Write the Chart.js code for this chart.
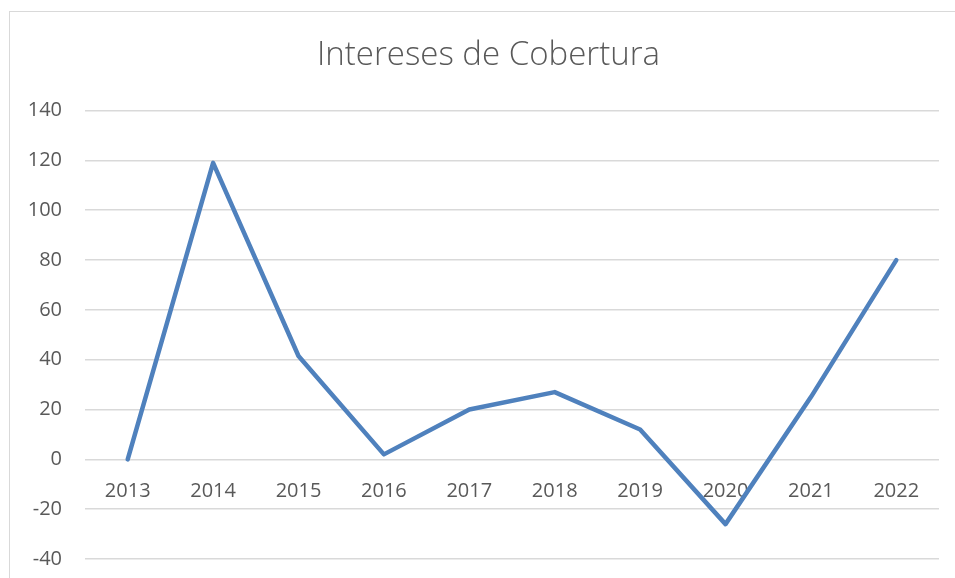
<!DOCTYPE html>
<html>
<head>
<meta charset="utf-8">
<script src="https://cdn.jsdelivr.net/npm/chart.js@4"></script>
<style>
  html, body { margin: 0; padding: 0; background: #fff; }
  #wrap { position: relative; width: 955px; height: 578px; overflow: hidden; }
  #frame { position: absolute; left: 9px; top: 11px; width: 960px; height: 600px; border: 1px solid #d9d9d9; box-sizing: border-box; }
  canvas { position: absolute; left: 0; top: 0; }
</style>
</head>
<body>
<div id="wrap">
  <div id="frame"></div>
  <!-- el lienzo es algo más alto que la ventana: el borde inferior queda recortado como en el original -->
  <canvas id="chart" width="955" height="594"></canvas>
</div>
<script>
// datos del gráfico
const years = ["2013", "2014", "2015", "2016", "2017", "2018", "2019", "2020", "2021", "2022"];
const cobertura = [0, 119, 41.5, 2, 20, 27, 12, -26, 25, 80];
const yMin = -40;
const yMax = 140;
const yStep = 20;

const textColor = "#595959";
const gridColor = "#d9d9d9";

// el título del original está centrado un poco más a la derecha
const shiftTitle = {
  id: "shiftTitle",
  afterLayout(chart) {
    if (chart.titleBlock) chart.titleBlock.left += 38;
  },
};

const ctx = document.getElementById("chart").getContext("2d");

new Chart(ctx, {
  type: "line",
  data: {
    labels: years,
    datasets: [
      {
        label: "Intereses de Cobertura",
        data: cobertura,
        borderColor: "#4f81bd",
        backgroundColor: "#4f81bd",
        borderWidth: 4.5,
        pointRadius: 0,
        tension: 0,
        borderCapStyle: "round",
        borderJoinStyle: "round",
        fill: false,
      },
    ],
  },
  options: {
    responsive: false,
    animation: false,
    layout: {
      padding: { left: 0, right: 16, top: 0, bottom: 20 },
    },
    plugins: {
      legend: { display: false },
      tooltip: { enabled: false },
      title: {
        display: true,
        text: "Intereses de Cobertura",
        color: textColor,
        font: { family: "'Open Sans', sans-serif", size: 33, weight: "300" },
        padding: { top: 36, bottom: 35 },
      },
    },
    scales: {
      x: {
        position: { y: 0 },
        offset: true,
        afterFit: (scale) => {
          // el eje se dibuja sobre la línea del cero
          scale.height = 0;
        },
        grid: { display: false, drawTicks: false },
        border: { display: false },
        ticks: {
          color: textColor,
          font: { family: "'Open Sans', sans-serif", size: 20 },
          padding: 20,
          maxRotation: 0,
        },
      },
      y: {
        min: yMin,
        max: yMax,
        afterFit: (scale) => {
          scale.width = 85;
        },
        grid: { color: gridColor, lineWidth: 1.5, drawTicks: false },
        border: { display: false },
        ticks: {
          stepSize: yStep,
          color: textColor,
          font: { family: "'Open Sans', sans-serif", size: 20 },
          padding: 23,
        },
      },
    },
  },
  plugins: [shiftTitle],
});
</script>
</body>
</html>
